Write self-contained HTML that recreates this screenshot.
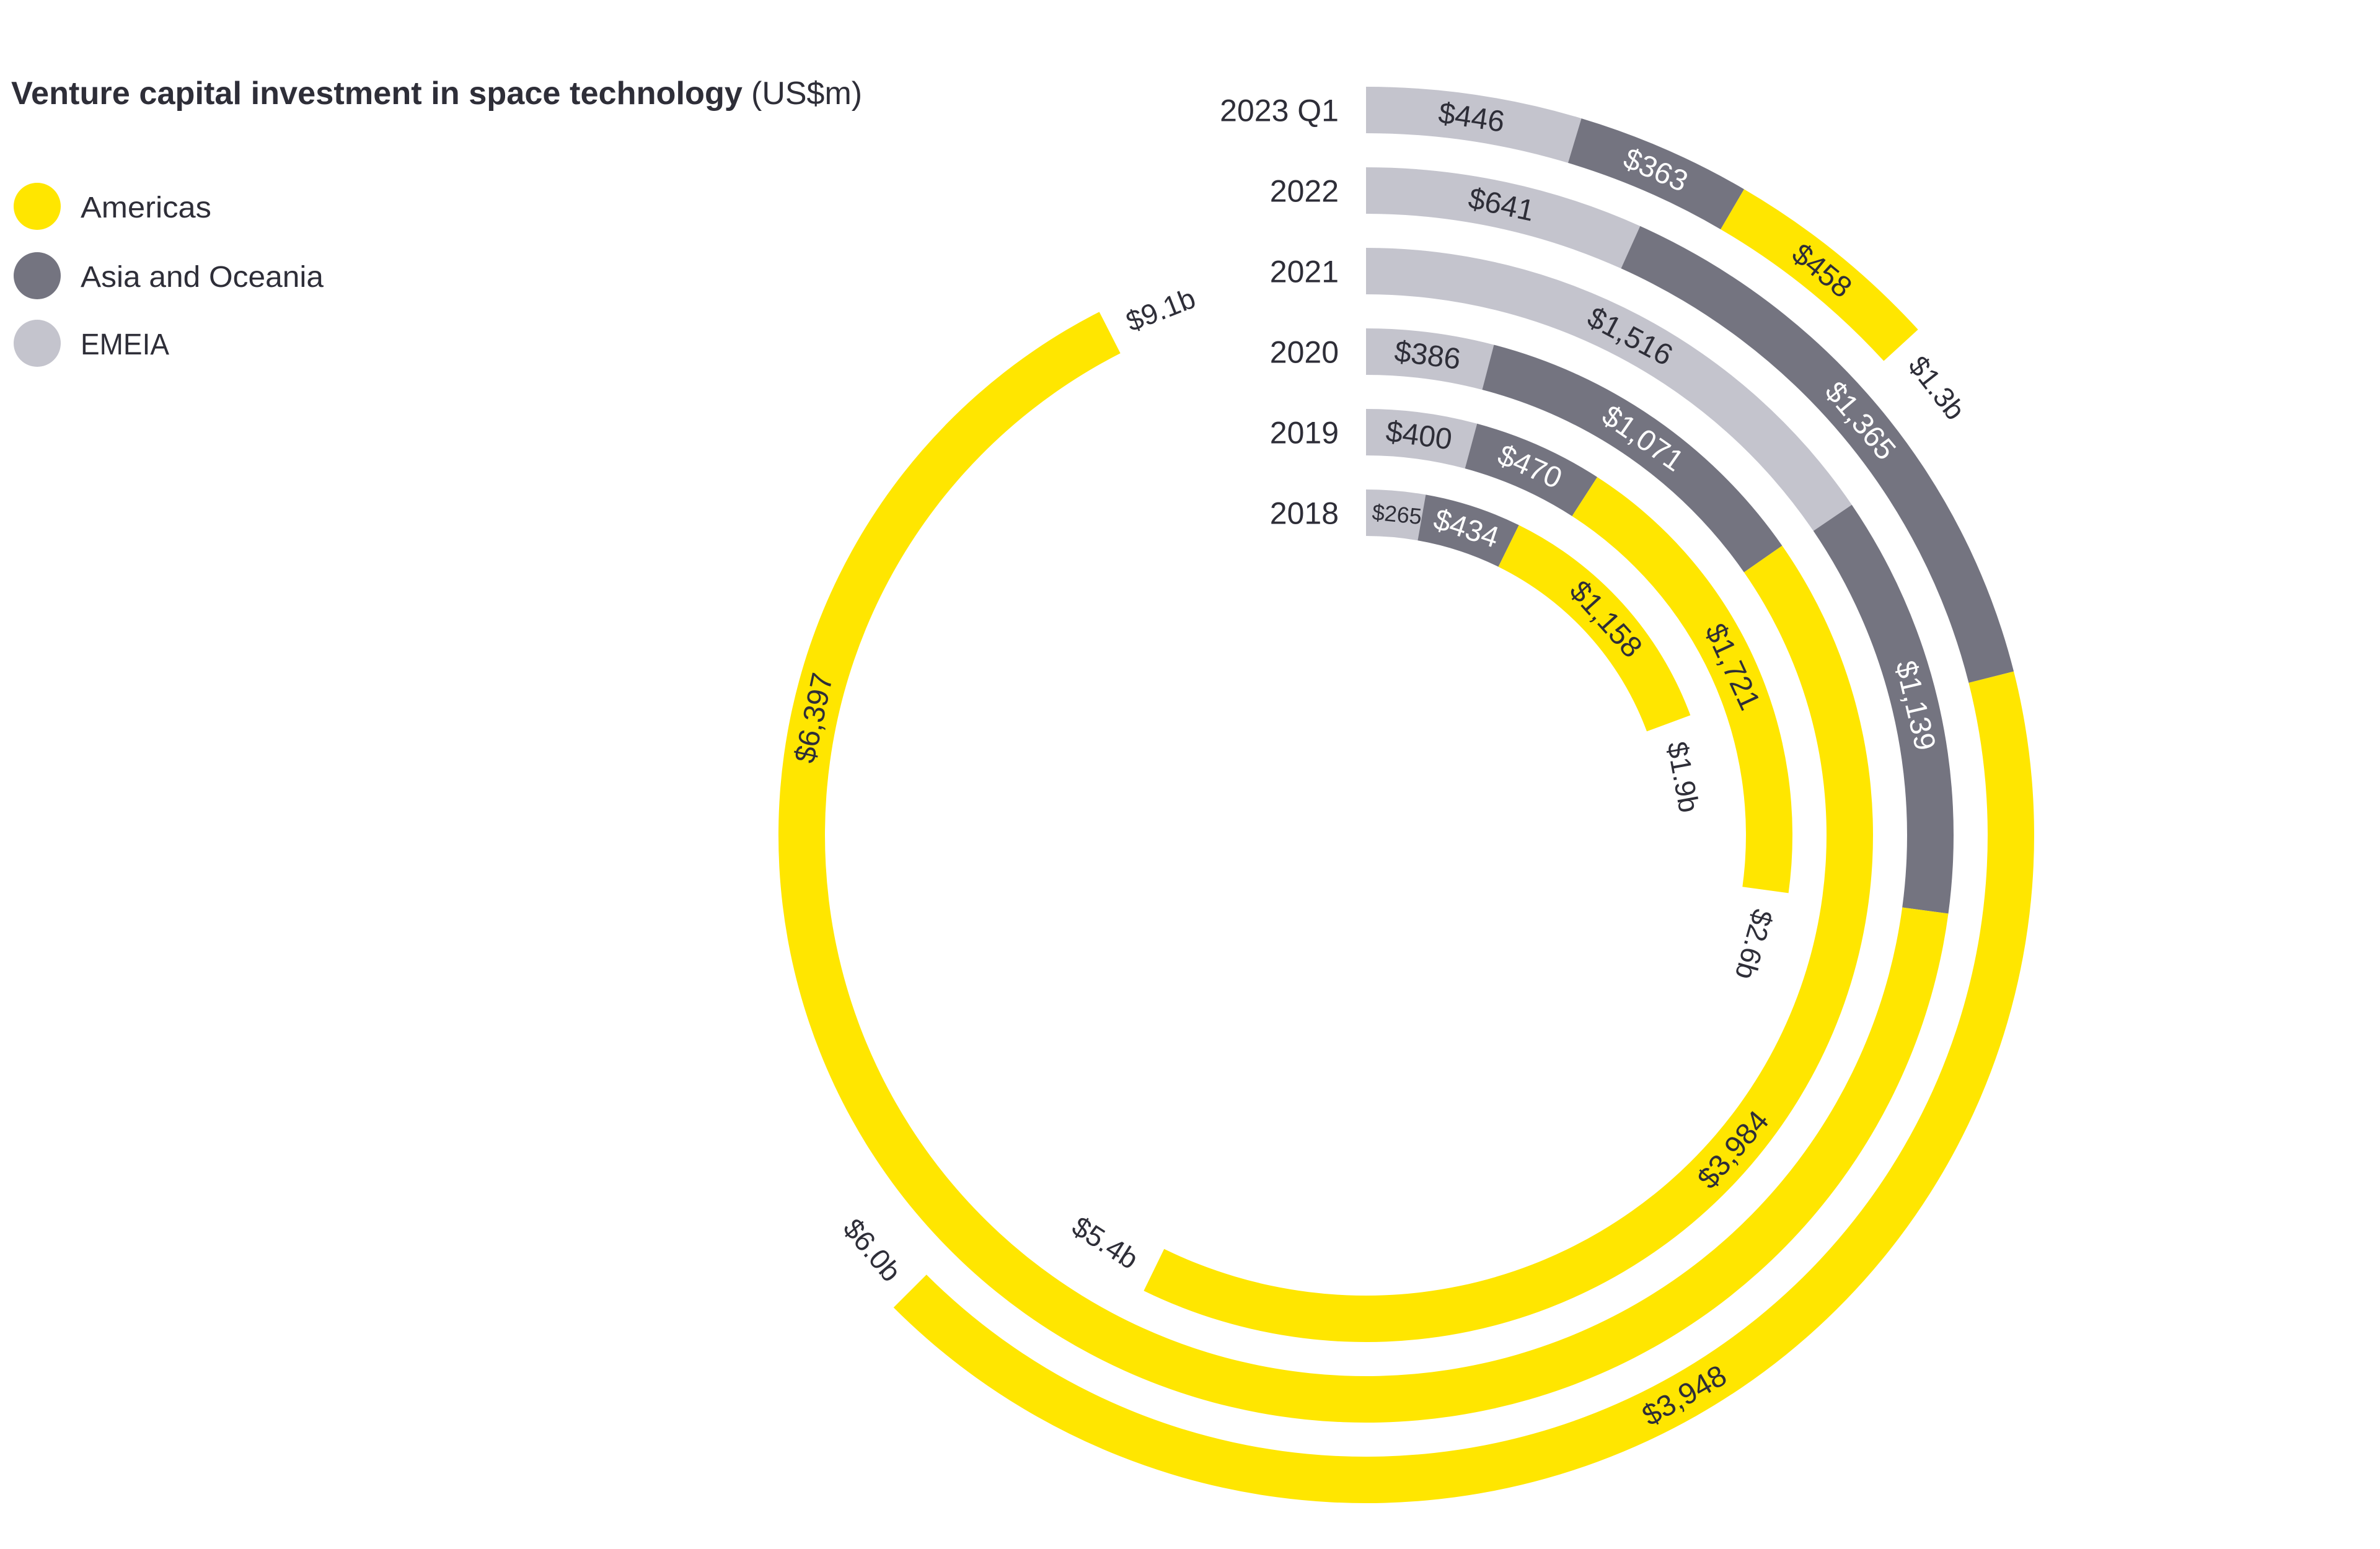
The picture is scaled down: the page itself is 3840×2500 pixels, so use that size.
<!DOCTYPE html>
<html><head><meta charset="utf-8"><style>
html,body{margin:0;padding:0;background:#fff;}
svg{display:block;}
text{font-family:"Liberation Sans",sans-serif;}
</style></head><body>
<svg id="s" width="3840" height="2500" viewBox="0 0 3840 2500" xmlns="http://www.w3.org/2000/svg">
<rect width="3840" height="2500" fill="#fff"/>
<text x="18" y="168" font-size="52" fill="#2E2E38"><tspan font-weight="bold" textLength="1180" lengthAdjust="spacingAndGlyphs">Venture capital investment in space technology</tspan><tspan dx="14">(US$m)</tspan></text>
<ellipse cx="60" cy="333" rx="38" ry="38" fill="#FFE600"/>
<ellipse cx="60" cy="445" rx="38" ry="38" fill="#747480"/>
<ellipse cx="60" cy="554" rx="38" ry="38" fill="#C4C4CD"/>
<text x="130" y="351" font-size="48" fill="#2E2E38" textLength="211" lengthAdjust="spacingAndGlyphs">Americas</text>
<text x="130" y="463" font-size="48" fill="#2E2E38" textLength="392" lengthAdjust="spacingAndGlyphs">Asia and Oceania</text>
<text x="130" y="572" font-size="48" fill="#2E2E38" textLength="143" lengthAdjust="spacingAndGlyphs">EMEIA</text>
<g id="g"></g>
</svg>
<script>
var cx=2204,cy=1348,T=75,NS="http://www.w3.org/2000/svg",g=document.getElementById('g');
var cols=["#C4C4CD","#747480","#FFE600"],tcol=["#2E2E38","#FFFFFF","#2E2E38"];
var rings=[
 {y:"2023 Q1",R:1208,v:[446,363,458],end:47.5,tot:"$1.3b"},
 {y:"2022",R:1078,v:[641,1365,3948],end:225,tot:"$6.0b"},
 {y:"2021",R:948,v:[1516,1139,6397],end:333,tot:"$9.1b",lab2:282},
 {y:"2020",R:818,v:[386,1071,3984],end:206,tot:"$5.4b"},
 {y:"2019",R:688,v:[400,470,1721],end:97.8,tot:"$2.6b"},
 {y:"2018",R:558,v:[265,434,1158],end:69.7,tot:"$1.9b"}];
function P(r,a){a=a*Math.PI/180;return [cx+r*Math.sin(a),cy-r*Math.cos(a)];}
function el(n,at,txt){var e=document.createElementNS(NS,n);for(var k in at)e.setAttribute(k,at[k]);if(txt!=null)e.textContent=txt;g.appendChild(e);return e;}
function fmt(n){return "$"+n.toLocaleString("en-US");}
rings.forEach(function(rg){
 var R=rg.R,r=R-T,rm=R-T/2,tot=rg.v.reduce(function(a,b){return a+b},0),k=rg.end/tot,a=0;
 el("text",{x:2160,y:cy-rm+18,"font-size":50,fill:"#2E2E38","text-anchor":"end"},rg.y);
 rg.v.forEach(function(v,i){
  var a1=a,a2=a+v*k;a=a2;
  var p1=P(R,a1),p2=P(R,a2),p3=P(r,a2),p4=P(r,a1),lg=(a2-a1)>180?1:0;
  el("path",{d:"M"+p1+" A"+R+","+R+" 0 "+lg+" 1 "+p2+" L"+p3+" A"+r+","+r+" 0 "+lg+" 0 "+p4+"Z",fill:cols[i]});
  var am=(i==2&&rg.lab2)?rg.lab2:(a1+a2)/2;
  if(a1==0){am=Math.max(am, (v<300?50:70)/rm*180/Math.PI);}
  var pm=P(rm,am),rot=am;if(am>90&&am<270)rot+=180;
  el("text",{x:pm[0],y:pm[1],"font-size":v<300?36:48,fill:tcol[i],"text-anchor":"middle","dominant-baseline":"central",transform:"rotate("+rot+" "+pm[0]+" "+pm[1]+")"},fmt(v));
 });
 var ae=rg.end+90/rm*180/Math.PI,pe=P(rm,ae),re=ae;if(ae>180&&ae<270)re-=180;
 el("text",{x:pe[0],y:pe[1],"font-size":46,fill:"#2E2E38","text-anchor":"middle","dominant-baseline":"central",transform:"rotate("+re+" "+pe[0]+" "+pe[1]+")"},rg.tot);
});
</script>
</body></html>
